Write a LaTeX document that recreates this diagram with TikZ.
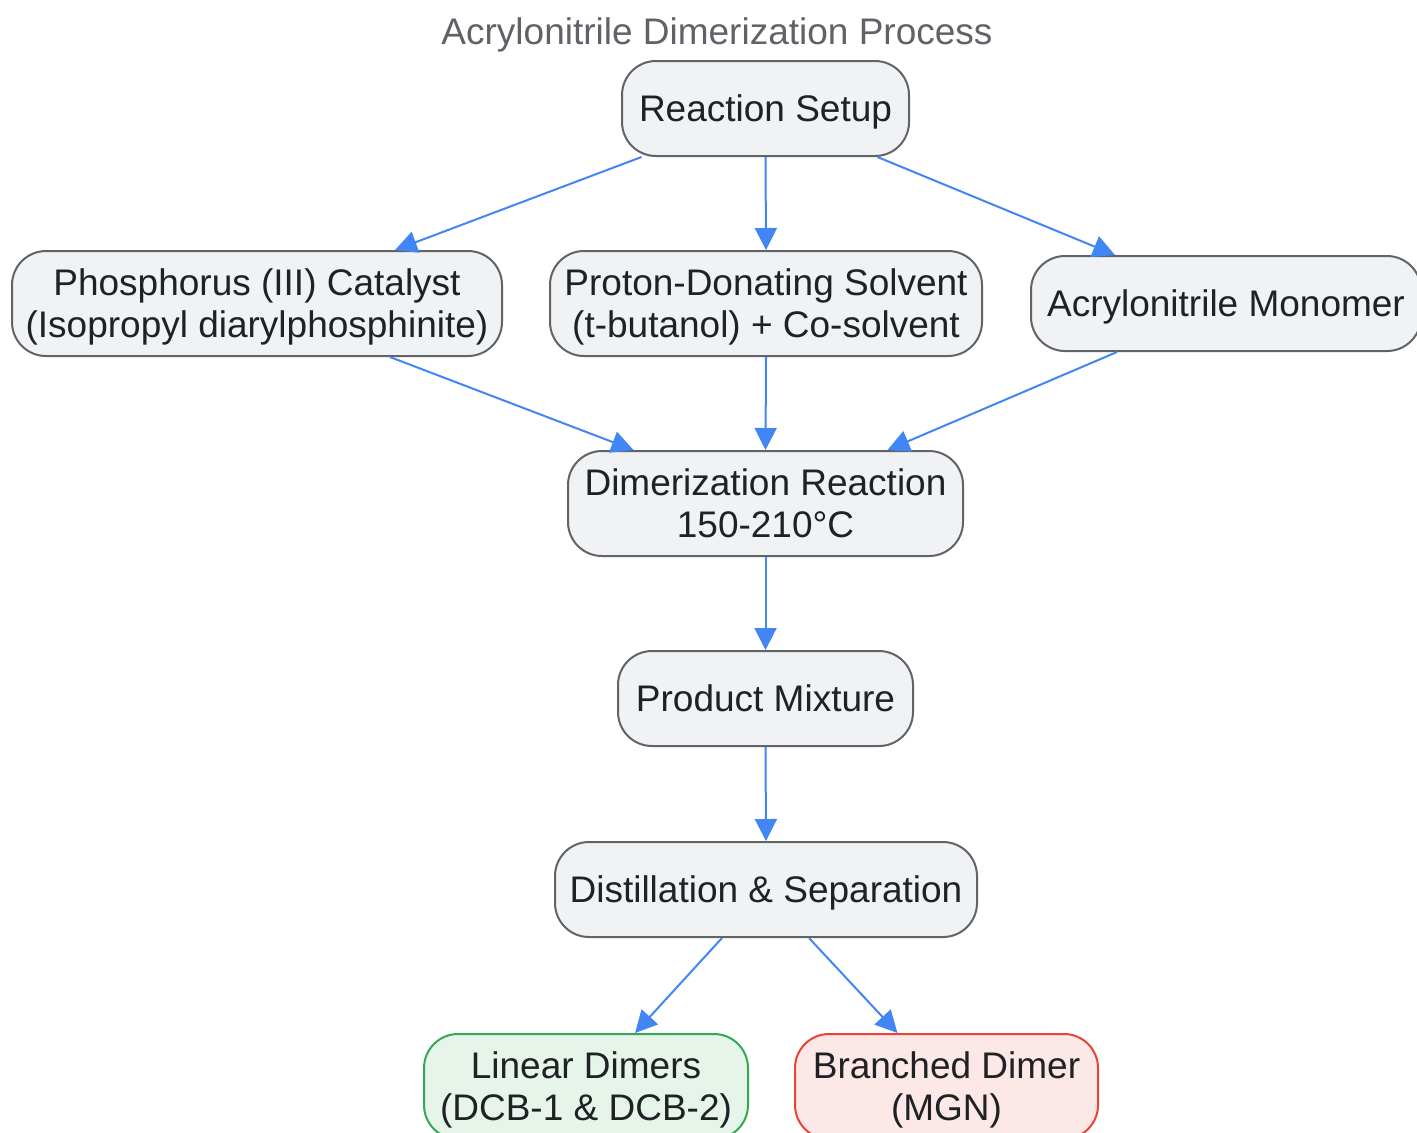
\documentclass[tikz,border=0pt]{standalone}
\usepackage{fontspec}
\setmainfont{Liberation Sans}
\usetikzlibrary{arrows.meta,calc}

\definecolor{boxfill}{HTML}{F1F2F4}
\definecolor{boxline}{HTML}{606368}
\definecolor{flowblue}{HTML}{4285F4}
\definecolor{titlegray}{HTML}{5F6368}
\definecolor{textdark}{HTML}{202124}
\definecolor{goodfill}{HTML}{E6F4EA}
\definecolor{goodline}{HTML}{34A853}
\definecolor{badfill}{HTML}{FCE8E6}
\definecolor{badline}{HTML}{EA4335}

\tikzset{
  stepnode/.style={draw=boxline, fill=boxfill, line width=1pt, rounded corners=17pt,
    align=center, text=textdark, inner sep=0pt, text depth=0pt, font=\fontsize{18.5}{21}\selectfont},
  goodnode/.style={stepnode, draw=goodline, fill=goodfill},
  badnode/.style={stepnode, draw=badline, fill=badfill},
  flow/.style={draw=flowblue, line width=1pt, -{Triangle[length=11pt,width=11pt]}}
}

\begin{document}
\begin{tikzpicture}[x=0.5pt, y=-0.5pt]
        \useasboundingbox (0,0) rectangle (1417,1132);
        \node[text=titlegray, font=\fontsize{18.5}{21}\selectfont] (title) at (717,35) {Acrylonitrile Dimerization Process};
        \node[stepnode, minimum width=143.5pt, minimum height=47.5pt] (setup) at (765.5,108.5) {Reaction Setup};
        \node[stepnode, minimum width=245pt, minimum height=52.5pt] (cat) at (257,303.5) {Phosphorus (III) Catalyst\\(Isopropyl diarylphosphinite)};
        \node[stepnode, minimum width=216pt, minimum height=52.5pt] (solv) at (766,303.5) {Proton-Donating Solvent\\(t-butanol) + Co-solvent};
        \node[stepnode, minimum width=195pt, minimum height=47.5pt] (mono) at (1226,303.5) {Acrylonitrile Monomer};
        \node[stepnode, minimum width=197.5pt, minimum height=52.5pt] (dimer) at (765.5,503.5) {Dimerization Reaction\\150-210°C};
        \node[stepnode, minimum width=147.5pt, minimum height=47.5pt] (mix) at (765.5,698.5) {Product Mixture};
        \node[stepnode, minimum width=211pt, minimum height=47.5pt] (dist) at (766,889.5) {Distillation \& Separation};
        \node[goodnode, minimum width=162pt, minimum height=52.5pt] (lin) at (586,1086.5) {Linear Dimers\\(DCB-1 \& DCB-2)};
        \node[badnode, minimum width=151.5pt, minimum height=52.5pt] (branch) at (946.5,1086.5) {Branched Dimer\\(MGN)};

        % feeds
        \draw[flow] ([xshift=-62pt]setup.south) -- ([xshift=69pt]cat.north);
        \draw[flow] (setup.south) -- (solv.north);
        \draw[flow] ([xshift=56pt]setup.south) -- ([xshift=-55.5pt]mono.north);
        \draw[flow] ([xshift=66.5pt]cat.south) -- ([xshift=-66pt]dimer.north);
        \draw[flow] (solv.south) -- (dimer.north);
        \draw[flow] ([xshift=-54.5pt]mono.south) -- ([xshift=61pt]dimer.north);
        % work-up
        \draw[flow] (dimer.south) -- (mix.north);
        \draw[flow] (mix.south) -- (dist.north);
        \draw[flow] ([xshift=-22pt]dist.south) -- ([xshift=24.5pt]lin.north);
        \draw[flow] ([xshift=21.5pt]dist.south) -- ([xshift=-24.5pt]branch.north);
\end{tikzpicture}
\end{document}
